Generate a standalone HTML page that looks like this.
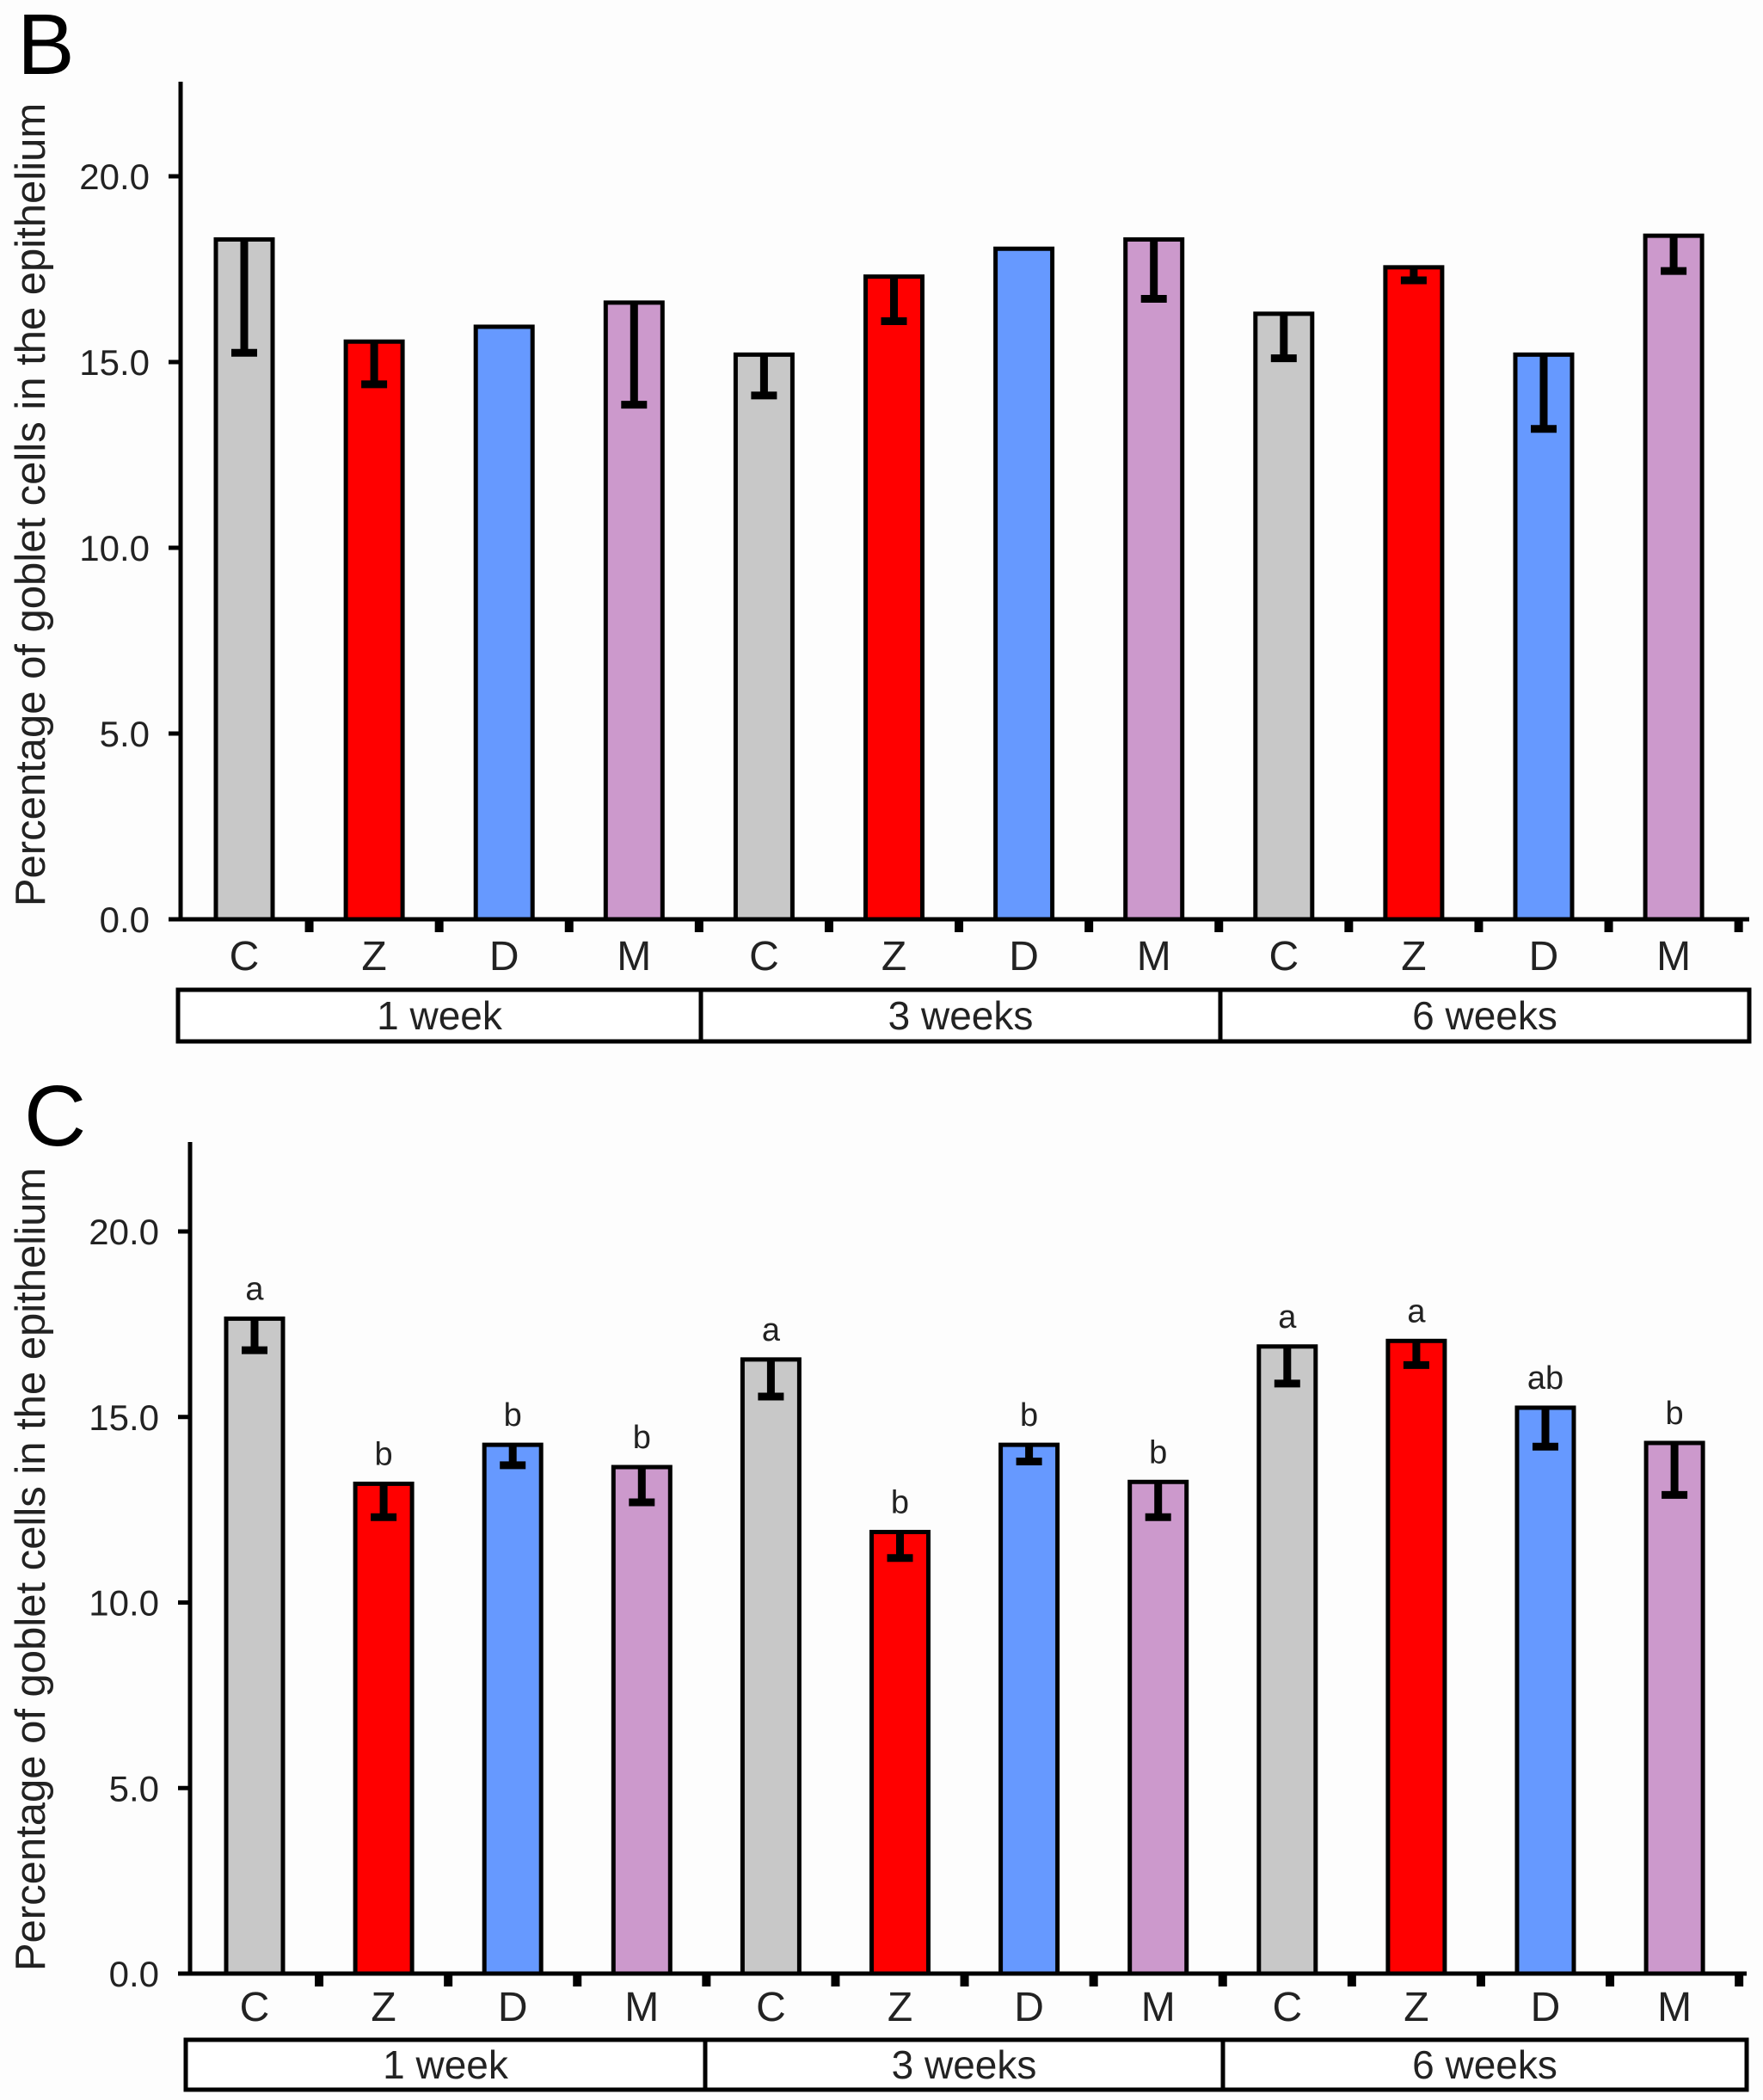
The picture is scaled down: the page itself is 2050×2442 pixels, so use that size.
<!DOCTYPE html>
<html><head><meta charset="utf-8"><style>
html,body{margin:0;padding:0;background:#fdfdfd;}
svg{display:block;font-family:"Liberation Sans",Arial,sans-serif;}
</style></head><body>
<svg id="fig" width="2050" height="2442" viewBox="0 0 2050 2442" xmlns="http://www.w3.org/2000/svg">
<rect width="2050" height="2442" fill="#fdfdfd"/>
<text x="20" y="86" font-size="100">B</text>
<text x="28" y="1332" font-size="100">C</text>
</svg>
<script>
const categories = ["C","Z","D","M","C","Z","D","M","C","Z","D","M"];
const groups = ["1 week","3 weeks","6 weeks"];
const yTicks = [0,5,10,15,20];
const yTickLabels = ["0.0","5.0","10.0","15.0","20.0"];
const valuesB = [18.3,15.55,15.95,16.6,15.2,17.3,18.05,18.3,16.3,17.55,15.2,18.4];
const errLowB = [15.25,14.4,null,13.85,14.1,16.1,null,16.7,15.1,17.2,13.2,17.45];
const valuesC = [17.65,13.2,14.25,13.65,16.55,11.9,14.25,13.25,16.9,17.05,15.25,14.3];
const errLowC = [16.8,12.3,13.7,12.7,15.55,11.2,13.8,12.3,15.9,16.4,14.2,12.9];
const lettersC = ["a","b","b","b","a","b","b","b","a","a","ab","b"];
const colors = ["#c8c8c8","#ff0000","#6699ff","#cc99cc"];

const NS="http://www.w3.org/2000/svg";
const svg=document.getElementById('fig');
function mk(tag,attrs,parent,text){
  const e=document.createElementNS(NS,tag);
  for(const k in attrs)e.setAttribute(k,attrs[k]);
  if(text!==undefined)e.textContent=text;
  (parent||svg).appendChild(e);return e;
}
function panel(p){
  const g=mk('g',{});
  
  
  const y=v=>p.y0-(v/20)*(p.y0-p.y20);
  const x=i=>p.x0+i*p.step;
  const ax=mk('line',{x1:p.ax,y1:p.top,x2:p.ax,y2:p.y0+2,stroke:'#000','stroke-width':5},g);
  
  
  yTicks.forEach((t,i)=>{
    mk('line',{x1:p.ax-14,y1:y(t),x2:p.ax,y2:y(t),stroke:'#000','stroke-width':5},g);
    const tl=mk('text',{x:p.ax-36,y:y(t)+15,'font-size':42,'text-anchor':'end',fill:'#222'},g,yTickLabels[i]);
    
    
  });
  const yt=mk('text',{x:0,y:0,'font-size':49,'text-anchor':'middle',fill:'#222',transform:`translate(${p.ylx},${p.yly}) rotate(-90)`},g,'Percentage of goblet cells in the epithelium');
  
  
  const bw=p.bw;
  p.values.forEach((v,i)=>{
    const cx=x(i);
    const r=mk('rect',{x:cx-bw/2,y:y(v),width:bw,height:y(0)-y(v),fill:colors[i%4],stroke:'#000','stroke-width':5},g);
    
    
    const lo=p.err[i];
    if(lo!==null){
      const eb=mk('path',{d:`M${cx},${y(v)} L${cx},${y(lo)} M${cx-15},${y(lo)} L${cx+15},${y(lo)}`,stroke:'#000','stroke-width':9,fill:'none'},g);
      
      
    }
    if(p.letters){
      const lt=mk('text',{x:cx,y:y(v)-22,'font-size':38,'text-anchor':'middle',fill:'#222'},g,p.letters[i]);
      
      
    }
    const cl=mk('text',{x:cx,y:p.labY,'font-size':48,'text-anchor':'middle',fill:'#222'},g,categories[i]);
    
    
    const tk=mk('rect',{x:cx+p.step/2-5,y:y(0)+2,width:10,height:13,fill:'#000'},g);
    
    
  });
  const xa=mk('line',{x1:p.ax,y1:y(0),x2:p.right,y2:y(0),stroke:'#000','stroke-width':5},g);
  
  
  const gb=mk('rect',{x:p.bl,y:p.bt,width:p.right-p.bl,height:p.bb-p.bt,fill:'#fff',stroke:'#000','stroke-width':5},g);
  
  
  const edges=[p.bl,p.d1,p.d2,p.right];
  [p.d1,p.d2].forEach(d=>mk('line',{x1:d,y1:p.bt,x2:d,y2:p.bb,stroke:'#000','stroke-width':5},g));
  groups.forEach((gname,i)=>{
    const gt=mk('text',{x:(edges[i]+edges[i+1])/2,y:(p.bt+p.bb)/2+16,'font-size':46,'text-anchor':'middle',fill:'#222'},g,gname);
    
    
  });
}
panel({name:'panel-b',values:valuesB,err:errLowB,letters:null,ax:210,top:95,y0:1069,y20:205,x0:284,step:151.1,bw:66,
  ylx:52,yly:587,labY:1128,bl:207,bt:1151,bb:1211,right:2034,d1:815,d2:1419});
panel({name:'panel-c',values:valuesC,err:errLowC,letters:lettersC,ax:221,top:1328,y0:2295,y20:1432,x0:296,step:150.1,bw:66,
  ylx:52,yly:1825,labY:2350,bl:216,bt:2372,bb:2430,right:2031,d1:820,d2:1422});
</script>
</body></html>
